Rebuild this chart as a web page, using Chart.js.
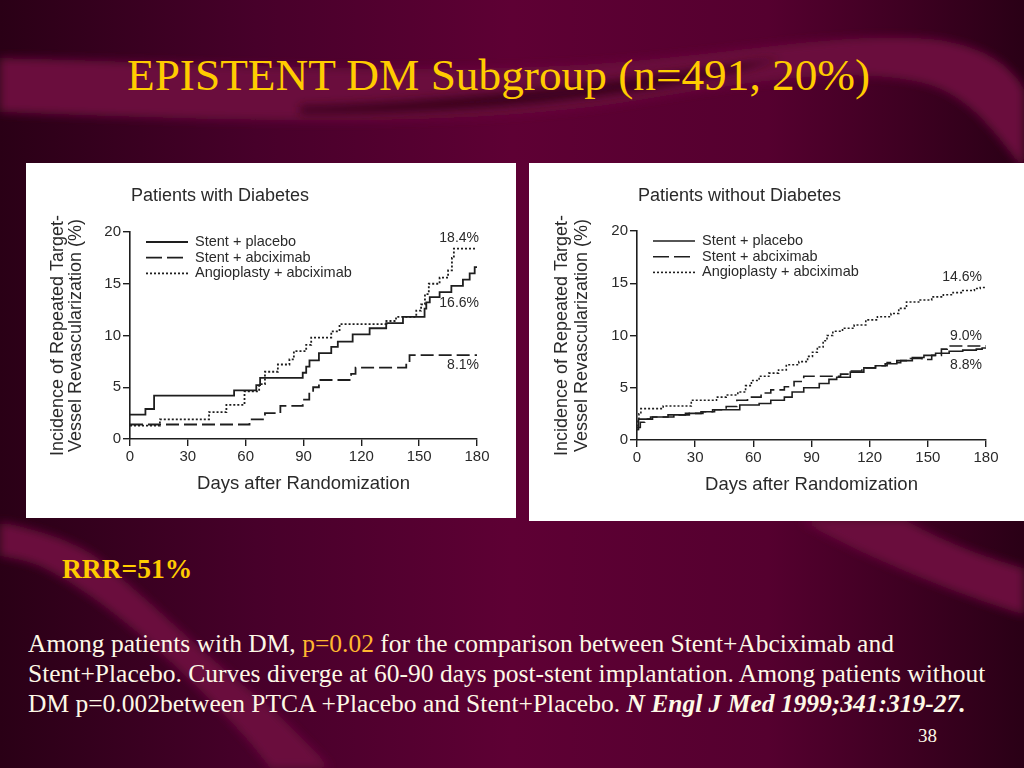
<!DOCTYPE html>
<html>
<head>
<meta charset="utf-8">
<title>EPISTENT DM Subgroup</title>
<script src="https://cdn.jsdelivr.net/npm/chart.js@4.4.0/dist/chart.umd.min.js"></script>
<style>
  body { margin: 0; width: 1024px; height: 768px; overflow: hidden; position: relative;
         background: #5c0032; font-family: "Liberation Serif", "Times New Roman", serif; }
  #bg { position: absolute; left: 0; top: 0; }
  .panel { position: absolute; background: #fff; }
  .panel canvas { display: block; }
  #title { position: absolute; left: 127px; top: 53px; font-size: 45.3px; line-height: 45px;
           color: #ffcc00; white-space: nowrap; }
  #rrr { position: absolute; left: 62px; top: 555px; font-size: 27.5px; line-height: 27px;
         font-weight: bold; color: #ffcc00; }
  #note { position: absolute; left: 28px; top: 629px; font-size: 25.5px; line-height: 30px;
          color: #fdf8e6; white-space: nowrap; }
  #note .p { color: #ffb830; }
  #note .ref { font-weight: bold; font-style: italic; }
  #pg { position: absolute; left: 918px; top: 725px; font-size: 19px; line-height: 22px; color: #fdf8e6; }
</style>
</head>
<body>
<svg id="bg" width="1024" height="768" viewBox="0 0 1024 768">
  <defs>
    <linearGradient id="gx" x1="0" x2="1" y1="0" y2="0">
      <stop offset="0" stop-color="#2a0016"/>
      <stop offset="0.25" stop-color="#47002a"/>
      <stop offset="0.5" stop-color="#5e0034"/>
      <stop offset="0.75" stop-color="#55002f"/>
      <stop offset="1" stop-color="#2a0016"/>
    </linearGradient>
    <filter id="soft"><feGaussianBlur stdDeviation="5"/></filter>
  </defs>
  <rect width="1024" height="768" fill="url(#gx)"/>
  <path d="M0,58 C200,62 420,78 620,62 C760,50 860,30 940,40 C990,48 1015,70 1024,90 L1024,170 C1000,140 975,100 930,85 C860,65 760,80 640,100 C470,128 250,122 0,112 Z" fill="#6a0a3e" filter="url(#soft)"/>
  <path d="M300,106 C450,102 600,84 780,58 C700,88 520,114 300,114 Z" fill="#3a001f" filter="url(#soft)"/>
  <path d="M0,522 C40,530 70,540 95,556 C150,600 210,660 262,700 C290,725 315,750 330,768 L270,768 C250,740 225,715 200,690 C150,640 90,590 40,566 C25,560 10,558 0,556 Z" fill="#6a0a3e" filter="url(#soft)"/>
  <path d="M800,520 L905,520 C950,545 995,560 1024,568 L1024,615 C960,595 870,560 800,520 Z" fill="#6a0a3e" filter="url(#soft)"/>
</svg>

<div id="title">EPISTENT DM Subgroup (n=491, 20%)</div>

<div class="panel" style="left:26px;top:163px;width:490px;height:355px">
  <canvas id="chartDM" width="490" height="355"></canvas>
</div>
<div class="panel" style="left:529px;top:163px;width:495px;height:358px">
  <canvas id="chartNoDM" width="495" height="358"></canvas>
</div>

<div id="rrr">RRR=51%</div>
<div id="note">Among patients with DM, <span class="p">p=0.02</span> for the comparison between Stent+Abciximab and<br>Stent+Placebo. Curves diverge at 60-90 days post-stent implantation. Among patients without<br>DM p=0.002between PTCA +Placebo and Stent+Placebo. <span class="ref">N Engl J Med 1999;341:319-27.</span></div>
<div id="pg">38</div>

<script>
// series names (legend order)
const seriesNames = ['Stent + placebo', 'Stent + abciximab', 'Angioplasty + abciximab'];

// Patients with diabetes: day a step starts, cumulative % from that day
const dmPlaceboDays = [0, 8, 12.5, 54, 65.5, 67.5, 89.6, 91.4, 93.1, 98, 104.4, 107.8, 115.5, 124.3, 132.9, 141.6, 152.8, 153.7, 155.5, 160.6, 166.7, 172.7, 176.2, 178.8, 180];
const dmPlaceboPct  = [2.35, 2.9, 4.2, 4.7, 5.2, 5.9, 6.4, 7.0, 7.6, 8.3, 8.9, 9.4, 10.1, 10.7, 11.2, 11.8, 12.6, 13.2, 13.7, 14.2, 14.8, 15.4, 16.0, 16.6, 16.6];
const dmAbcixDays   = [0, 62, 70, 78, 89.6, 93, 95, 98, 114.7, 117, 143.3, 145, 180];
const dmAbcixPct    = [1.4, 1.9, 2.5, 3.2, 3.8, 4.5, 5.0, 5.7, 6.3, 6.9, 7.4, 8.1, 8.1];
const dmPtcaDays    = [0, 15.5, 41, 50, 59.4, 67, 70, 76.7, 82.7, 85, 91.4, 94, 104.4, 108.7, 133, 138, 148.5, 151, 153, 155, 160.6, 165, 167, 168, 180];
const dmPtcaPct     = [1.3, 1.9, 2.6, 3.3, 4.6, 5.3, 6.5, 7.2, 7.7, 8.5, 9.1, 9.8, 10.4, 11.1, 11.4, 11.8, 12.4, 13.0, 14.0, 15.0, 15.6, 16.3, 17.5, 18.4, 18.4];
const dmEndLabels   = ['18.4%', '16.6%', '8.1%'];

// Patients without diabetes
const ndPlaceboDays = [0, 0.8, 7, 19, 27, 34, 39, 53, 63, 69, 76, 80, 86, 94, 99, 103, 110, 117, 123, 128, 134, 142, 148, 154, 161, 168, 175, 178, 180];
const ndPlaceboPct  = [1.0, 2.0, 2.2, 2.4, 2.55, 2.7, 2.9, 3.35, 3.5, 3.8, 4.1, 4.6, 5.0, 5.4, 5.8, 6.0, 6.5, 6.9, 7.1, 7.3, 7.6, 7.9, 8.1, 8.3, 8.5, 8.6, 8.7, 8.8, 8.8];
const ndAbcixDays   = [0, 1.7, 4, 8, 16, 25, 33, 40, 46, 51.5, 57, 64, 69, 76, 81, 86, 105, 110, 116, 123, 129, 136, 141, 147, 152, 157, 160, 180];
const ndAbcixPct    = [1.2, 1.7, 2.0, 2.2, 2.4, 2.55, 2.7, 2.9, 3.2, 3.8, 4.1, 4.5, 4.8, 5.1, 5.6, 6.1, 6.3, 6.6, 6.9, 7.1, 7.4, 7.6, 7.8, 7.7, 8.1, 8.7, 9.0, 9.0];
const ndPtcaDays    = [0, 0.5, 1, 2, 13.5, 28, 41, 46, 52, 56, 59, 63, 68, 73, 77, 83.5, 88, 90.5, 93, 96, 98, 101, 106, 112, 118, 124, 131, 135, 139, 146, 152, 158, 163, 168, 174, 177, 180];
const ndPtcaPct     = [1.0, 2.0, 2.5, 3.0, 3.25, 3.8, 4.1, 4.3, 4.6, 5.2, 5.7, 6.1, 6.4, 6.7, 7.2, 7.5, 8.0, 8.4, 8.9, 9.5, 10.0, 10.4, 10.7, 11.0, 11.5, 11.8, 12.1, 12.6, 13.2, 13.4, 13.7, 13.9, 14.1, 14.3, 14.5, 14.6, 14.6];
const ndEndLabels   = ['14.6%', '9.0%', '8.8%'];

// axis ticks
const dayTicks = [0, 30, 60, 90, 120, 150, 180];
const pctTicks = [0, 5, 10, 15, 20];

const SANS = '"Liberation Sans", Arial, sans-serif';
const INK = '#1e1e1e';

function toPoints(days, pct) {
  return days.map((d, i) => ({ x: d, y: pct[i] }));
}

// chart title, legend inside the plot and the end-of-curve percentages
const panelText = {
  id: 'panelText',
  afterDatasetsDraw(chart, args, opts) {
    const { ctx, chartArea: a, scales: { y } } = chart;
    ctx.save();
    ctx.fillStyle = '#2a2a2a';
    ctx.textBaseline = 'middle';
    ctx.font = '18px ' + SANS;
    ctx.fillText(opts.title, a.left + 1, 33);

    ctx.font = '14.5px ' + SANS;
    chart.data.datasets.forEach((ds, i) => {
      const yy = a.top + 10 + i * 15.7;
      ctx.beginPath();
      ctx.setLineDash(ds.legendDash);
      ctx.lineWidth = ds.borderWidth;
      ctx.strokeStyle = ds.borderColor;
      ctx.moveTo(a.left + 16, yy);
      ctx.lineTo(a.left + 58, yy);
      ctx.stroke();
      ctx.fillText(ds.label, a.left + 65, yy);
    });

    ctx.setLineDash([]);
    ctx.textAlign = 'right';
    ctx.font = '14px ' + SANS;
    opts.labels.forEach((t, i) => {
      ctx.fillText(t, a.right + opts.labelDx, y.getPixelForValue(opts.labelAt[i]));
    });
    ctx.restore();
  }
};

function makeChart(id, cfg) {
  const styles = [
    { borderDash: [], legendDash: [] },
    { borderDash: [13, 5], legendDash: [16, 5] },
    { borderDash: [2, 2], legendDash: [2, 2] }
  ];
  const datasets = cfg.series.map((s, i) => ({
    label: seriesNames[i],
    data: toPoints(s[0], s[1]),
    borderColor: INK,
    borderWidth: cfg.lineWidth,
    borderDash: styles[i].borderDash,
    legendDash: styles[i].legendDash,
    stepped: 'before',
    pointRadius: 0,
    fill: false
  }));

  return new Chart(document.getElementById(id), {
    type: 'line',
    data: { datasets },
    plugins: [panelText],
    options: {
      responsive: false,
      animation: false,
      layout: { padding: { top: cfg.top, right: cfg.right, left: 0, bottom: 0 } },
      plugins: {
        legend: { display: false },
        tooltip: { enabled: false },
        panelText: { title: cfg.title, labels: cfg.labels, labelAt: cfg.labelAt, labelDx: cfg.labelDx }
      },
      scales: {
        x: {
          type: 'linear', min: 0, max: 180,
          afterBuildTicks: s => { s.ticks = dayTicks.map(v => ({ value: v })); },
          afterFit: s => { s.height = cfg.xHeight; },
          border: { color: INK, width: 1.6 },
          grid: { drawOnChartArea: false, drawTicks: true, tickLength: 7, color: INK, lineWidth: 1.4 },
          ticks: { color: '#2a2a2a', font: { family: SANS, size: 15 }, padding: 2, maxRotation: 0 },
          title: { display: true, text: 'Days after Randomization', color: '#2a2a2a',
                   font: { family: SANS, size: 18.5 }, padding: { top: 0, bottom: cfg.xTitlePad } }
        },
        y: {
          type: 'linear', min: 0, max: 20,
          afterBuildTicks: s => { s.ticks = pctTicks.map(v => ({ value: v })); },
          afterFit: s => { s.width = cfg.yWidth; },
          border: { color: INK, width: 1.6 },
          grid: { drawOnChartArea: false, drawTicks: true, tickLength: 7, color: INK, lineWidth: 1.4 },
          ticks: { color: '#2a2a2a', font: { family: SANS, size: 15 }, padding: 2 },
          title: { display: true, text: ['Incidence of Repeated Target-', 'Vessel Revascularization (%)'],
                   color: '#2a2a2a', font: { family: SANS, size: 18, lineHeight: cfg.yTitleLh },
                   padding: { top: cfg.yTitlePad, bottom: 0 } }
        }
      }
    }
  });
}

makeChart('chartDM', {
  title: 'Patients with Diabetes',
  series: [[dmPlaceboDays, dmPlaceboPct], [dmAbcixDays, dmAbcixPct], [dmPtcaDays, dmPtcaPct]],
  labels: dmEndLabels, labelAt: [19.4, 13.1, 7.15], labelDx: 2,
  lineWidth: 1.8, top: 69, right: 39, xHeight: 79, yWidth: 104,
  xTitlePad: 23, yTitlePad: 22.5, yTitleLh: 1.02
});

makeChart('chartNoDM', {
  title: 'Patients without Diabetes',
  series: [[ndPlaceboDays, ndPlaceboPct], [ndAbcixDays, ndAbcixPct], [ndPtcaDays, ndPtcaPct]],
  labels: ndEndLabels, labelAt: [15.6, 9.95, 7.2], labelDx: -4,
  lineWidth: 1.6, top: 68, right: 38, xHeight: 81, yWidth: 108,
  xTitlePad: 25, yTitlePad: 23.6, yTitleLh: 1.08
});
</script>
</body>
</html>
